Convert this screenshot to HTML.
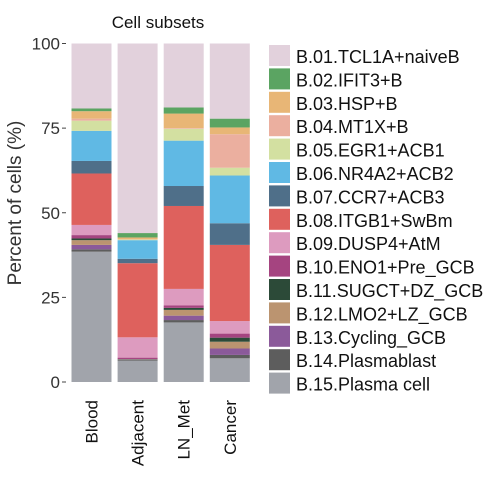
<!DOCTYPE html>
<html><head><meta charset="utf-8"><style>
body{margin:0;background:#fff;width:498px;height:482px;overflow:hidden}
svg{font-family:"Liberation Sans",sans-serif}
</style></head><body>
<svg id="chart" width="498" height="482"></svg>
<script>
const categories=["Blood","Adjacent","LN_Met","Cancer"];
const subsets=["B.01.TCL1A+naiveB","B.02.IFIT3+B","B.03.HSP+B","B.04.MT1X+B","B.05.EGR1+ACB1","B.06.NR4A2+ACB2","B.07.CCR7+ACB3","B.08.ITGB1+SwBm","B.09.DUSP4+AtM","B.10.ENO1+Pre_GCB","B.11.SUGCT+DZ_GCB","B.12.LMO2+LZ_GCB","B.13.Cycling_GCB","B.14.Plasmablast","B.15.Plasma cell"];
const colors=["#e2d1dc","#5ba462","#e8b676","#ebaf9f","#d3e0a1","#60b9e4","#4f6f89","#de615d","#dd9bbf","#a54480","#2c4a38","#bb9470","#8b5a9a","#5d5d5d","#a1a4ab"];
const blood=[19.2,0.8,2.2,0.6,3.0,8.9,3.7,15.2,3.0,1.0,0.5,1.4,1.3,0.7,38.5];
const adjacent=[56.0,1.3,0.5,0.1,0.2,5.5,1.3,21.9,6.0,0.4,0.1,0.1,0.1,0.2,6.3];
const lnMet=[18.9,1.8,4.3,0.2,3.5,13.4,5.9,24.5,4.9,0.7,0.6,1.7,1.3,0.7,17.6];
const cancer=[22.2,2.6,2.0,9.9,2.3,14.1,6.4,22.5,3.7,1.2,1.2,2.0,1.9,1.0,7.0];
const yTicks=[0,25,50,75,100];
const series=[blood,adjacent,lnMet,cancer];
const NS="http://www.w3.org/2000/svg";
const svg=document.getElementById('chart');
const y0=382,y100=43.5;
const yScale=v=>y0-(y0-y100)*v/100;
const xStart=71.5,step=46.1,bw=40;
const xScale=i=>xStart+i*step;
function mk(tag,attrs,parent){const e=document.createElementNS(NS,tag);for(const k in attrs)e.setAttribute(k,attrs[k]);(parent||svg).appendChild(e);return e;}
let t=mk('text',{x:158,y:28,'font-size':17,'text-anchor':'middle',fill:'#111'});t.textContent="Cell subsets";


t=mk('text',{x:0,y:0,'font-size':19,'text-anchor':'middle',fill:'#333',transform:'translate(21,203) rotate(-90)'});t.textContent="Percent of cells (%)";


yTicks.forEach(v=>{
  const y=yScale(v);
  const l=mk('line',{x1:62,x2:66,y1:y,y2:y,stroke:'#444','stroke-width':1});
  
  
  const tx=mk('text',{x:60,y:y+6,'font-size':17,'text-anchor':'end',fill:'#333'});tx.textContent=v;
  
  
});
series.forEach((vals,ci)=>{
  const g=mk('g',{});
  
  
  let cum=0;
  for(let k=vals.length-1;k>=0;k--){
    const yb=yScale(cum);cum+=vals[k];const yt=yScale(cum);
    const r=mk('rect',{x:xScale(ci),y:yt,width:bw,height:Math.max(0,yb-yt),fill:colors[k]},g);
    
    
  }
  const lx=xScale(ci)+bw/2+6;
  const tx=mk('text',{x:0,y:0,'font-size':17,'text-anchor':'end',fill:'#111',transform:`translate(${lx},400) rotate(-90)`});tx.textContent=categories[ci];
  
  
});
subsets.forEach((s,k)=>{
  const y=45+k*23.4;
  const g=mk('g',{});
  
  
  mk('rect',{x:269,y:y,width:21,height:21,fill:colors[k]},g);
  const tx=mk('text',{x:296,y:y+18,'font-size':18,fill:'#111'},g);tx.textContent=s;
});
</script>
</body></html>
